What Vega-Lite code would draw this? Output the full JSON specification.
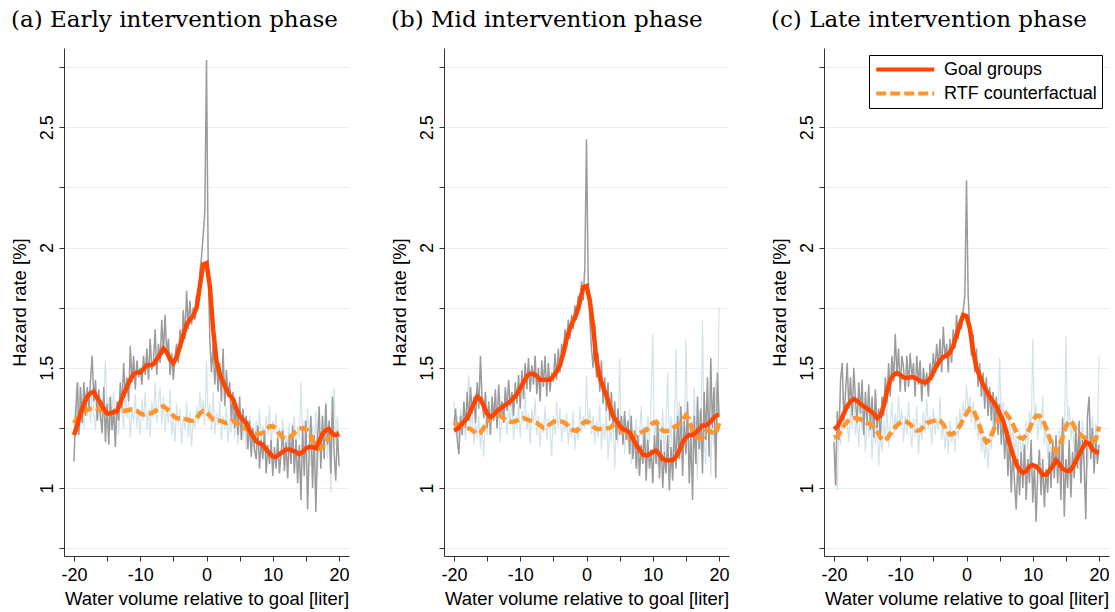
{
"$schema": "https://vega.github.io/schema/vega-lite/v6.json",
"background": "white",
"padding": {"left": 10, "top": 9, "right": 5, "bottom": 5},
"datasets": {
"a": [
{"x":-20,"g":1.11,"b":1.24},{"x":-19.75,"g":1.30,"b":1.35},{"x":-19.5,"g":1.44,"b":1.22},{"x":-19.25,"g":1.22,"b":1.44},{"x":-19,"g":1.42,"b":1.28},{"x":-18.75,"g":1.27,"b":1.36},{"x":-18.5,"g":1.44,"b":1.25},{"x":-18.25,"g":1.30,"b":1.40},{"x":-18,"g":1.42,"b":1.30},{"x":-17.75,"g":1.33,"b":1.38},{"x":-17.5,"g":1.45,"b":1.27},{"x":-17.25,"g":1.55,"b":1.42},{"x":-17,"g":1.36,"b":1.31},{"x":-16.75,"g":1.45,"b":1.24},{"x":-16.5,"g":1.28,"b":1.39},{"x":-16.25,"g":1.41,"b":1.28},{"x":-16,"g":1.30,"b":1.35},{"x":-15.75,"g":1.23,"b":1.22},{"x":-15.5,"g":1.42,"b":1.37},{"x":-15.25,"g":1.19,"b":1.53},{"x":-15,"g":1.35,"b":1.29},{"x":-14.75,"g":1.18,"b":1.38},{"x":-14.5,"g":1.38,"b":1.24},{"x":-14.25,"g":1.24,"b":1.33},{"x":-14,"g":1.33,"b":1.40},{"x":-13.75,"g":1.17,"b":1.26},{"x":-13.5,"g":1.36,"b":1.35},{"x":-13.25,"g":1.28,"b":1.22},{"x":-13,"g":1.44,"b":1.38},{"x":-12.75,"g":1.33,"b":1.30},{"x":-12.5,"g":1.52,"b":1.25},{"x":-12.25,"g":1.38,"b":1.42},{"x":-12,"g":1.46,"b":1.29},{"x":-11.75,"g":1.36,"b":1.36},{"x":-11.5,"g":1.59,"b":1.21},{"x":-11.25,"g":1.44,"b":1.34},{"x":-11,"g":1.55,"b":1.27},{"x":-10.75,"g":1.41,"b":1.39},{"x":-10.5,"g":1.53,"b":1.25},{"x":-10.25,"g":1.46,"b":1.33},{"x":-10,"g":1.50,"b":1.22},{"x":-9.75,"g":1.43,"b":1.37},{"x":-9.5,"g":1.55,"b":1.28},{"x":-9.25,"g":1.47,"b":1.40},{"x":-9,"g":1.58,"b":1.24},{"x":-8.75,"g":1.45,"b":1.33},{"x":-8.5,"g":1.62,"b":1.21},{"x":-8.25,"g":1.49,"b":1.36},{"x":-8,"g":1.53,"b":1.29},{"x":-7.75,"g":1.66,"b":1.44},{"x":-7.5,"g":1.47,"b":1.27},{"x":-7.25,"g":1.60,"b":1.35},{"x":-7,"g":1.52,"b":1.42},{"x":-6.75,"g":1.70,"b":1.26},{"x":-6.5,"g":1.56,"b":1.38},{"x":-6.25,"g":1.72,"b":1.23},{"x":-6,"g":1.55,"b":1.34},{"x":-5.75,"g":1.62,"b":1.27},{"x":-5.5,"g":1.47,"b":1.41},{"x":-5.25,"g":1.56,"b":1.22},{"x":-5,"g":1.45,"b":1.30},{"x":-4.75,"g":1.55,"b":1.19},{"x":-4.5,"g":1.60,"b":1.35},{"x":-4.25,"g":1.52,"b":1.26},{"x":-4,"g":1.66,"b":1.33},{"x":-3.75,"g":1.58,"b":1.18},{"x":-3.5,"g":1.74,"b":1.30},{"x":-3.25,"g":1.62,"b":1.24},{"x":-3,"g":1.82,"b":1.36},{"x":-2.75,"g":1.66,"b":1.21},{"x":-2.5,"g":1.78,"b":1.32},{"x":-2.25,"g":1.68,"b":1.17},{"x":-2,"g":1.75,"b":1.29},{"x":-1.75,"g":1.70,"b":1.25},{"x":-1.5,"g":1.80,"b":1.34},{"x":-1.25,"g":1.77,"b":1.27},{"x":-1,"g":1.90,"b":1.40},{"x":-0.75,"g":1.96,"b":1.30},{"x":-0.5,"g":2.05,"b":1.37},{"x":-0.25,"g":2.15,"b":1.26},{"x":0,"g":2.78,"b":1.53},{"x":0.25,"g":1.95,"b":1.28},{"x":0.5,"g":1.62,"b":1.35},{"x":0.75,"g":1.48,"b":1.24},{"x":1,"g":1.60,"b":1.40},{"x":1.25,"g":1.43,"b":1.22},{"x":1.5,"g":1.55,"b":1.31},{"x":1.75,"g":1.40,"b":1.26},{"x":2,"g":1.52,"b":1.36},{"x":2.25,"g":1.36,"b":1.20},{"x":2.5,"g":1.58,"b":1.30},{"x":2.75,"g":1.34,"b":1.24},{"x":3,"g":1.49,"b":1.34},{"x":3.25,"g":1.38,"b":1.19},{"x":3.5,"g":1.44,"b":1.29},{"x":3.75,"g":1.28,"b":1.23},{"x":4,"g":1.40,"b":1.35},{"x":4.25,"g":1.25,"b":1.21},{"x":4.5,"g":1.35,"b":1.30},{"x":4.75,"g":1.22,"b":1.18},{"x":5,"g":1.38,"b":1.27},{"x":5.25,"g":1.20,"b":1.32},{"x":5.5,"g":1.33,"b":1.20},{"x":5.75,"g":1.24,"b":1.28},{"x":6,"g":1.30,"b":1.16},{"x":6.25,"g":1.16,"b":1.25},{"x":6.5,"g":1.28,"b":1.30},{"x":6.75,"g":1.13,"b":1.17},{"x":7,"g":1.25,"b":1.24},{"x":7.25,"g":1.16,"b":1.14},{"x":7.5,"g":1.12,"b":1.28},{"x":7.75,"g":1.26,"b":1.20},{"x":8,"g":1.08,"b":1.33},{"x":8.25,"g":1.20,"b":1.16},{"x":8.5,"g":1.12,"b":1.26},{"x":8.75,"g":1.24,"b":1.19},{"x":9,"g":1.06,"b":1.30},{"x":9.25,"g":1.18,"b":1.22},{"x":9.5,"g":1.10,"b":1.34},{"x":9.75,"g":1.20,"b":1.18},{"x":10,"g":1.05,"b":1.28},{"x":10.25,"g":1.17,"b":1.23},{"x":10.5,"g":1.08,"b":1.31},{"x":10.75,"g":1.21,"b":1.15},{"x":11,"g":1.06,"b":1.25},{"x":11.25,"g":1.14,"b":1.19},{"x":11.5,"g":1.24,"b":1.29},{"x":11.75,"g":1.07,"b":1.12},{"x":12,"g":1.19,"b":1.22},{"x":12.25,"g":1.04,"b":1.17},{"x":12.5,"g":1.22,"b":1.27},{"x":12.75,"g":1.10,"b":1.10},{"x":13,"g":1.26,"b":1.24},{"x":13.25,"g":1.06,"b":1.30},{"x":13.5,"g":1.20,"b":1.15},{"x":13.75,"g":1.02,"b":1.26},{"x":14,"g":1.18,"b":1.20},{"x":14.25,"g":0.95,"b":1.44},{"x":14.5,"g":1.25,"b":1.18},{"x":14.75,"g":1.05,"b":1.28},{"x":15,"g":1.28,"b":1.13},{"x":15.25,"g":0.91,"b":1.33},{"x":15.5,"g":1.16,"b":1.21},{"x":15.75,"g":1.30,"b":1.09},{"x":16,"g":1.00,"b":1.26},{"x":16.25,"g":1.22,"b":1.16},{"x":16.5,"g":0.90,"b":1.32},{"x":16.75,"g":1.20,"b":1.05},{"x":17,"g":1.34,"b":1.22},{"x":17.25,"g":1.08,"b":1.14},{"x":17.5,"g":1.30,"b":1.30},{"x":17.75,"g":1.12,"b":1.20},{"x":18,"g":1.35,"b":1.36},{"x":18.25,"g":1.18,"b":1.12},{"x":18.5,"g":1.28,"b":1.27},{"x":18.75,"g":1.06,"b":0.98},{"x":19,"g":1.38,"b":1.25},{"x":19.25,"g":1.15,"b":1.42},{"x":19.5,"g":1.03,"b":1.18},{"x":19.75,"g":1.24,"b":1.30},{"x":20,"g":1.09,"b":1.21}
],
"b": [
{"x":-20,"g":1.26,"b":1.36},{"x":-19.75,"g":1.33,"b":1.22},{"x":-19.5,"g":1.20,"b":1.30},{"x":-19.25,"g":1.14,"b":1.19},{"x":-19,"g":1.30,"b":1.33},{"x":-18.75,"g":1.22,"b":1.24},{"x":-18.5,"g":1.36,"b":1.28},{"x":-18.25,"g":1.25,"b":1.20},{"x":-18,"g":1.40,"b":1.38},{"x":-17.75,"g":1.28,"b":1.47},{"x":-17.5,"g":1.42,"b":1.25},{"x":-17.25,"g":1.31,"b":1.33},{"x":-17,"g":1.38,"b":1.18},{"x":-16.75,"g":1.27,"b":1.27},{"x":-16.5,"g":1.44,"b":1.21},{"x":-16.25,"g":1.33,"b":1.30},{"x":-16,"g":1.55,"b":1.16},{"x":-15.75,"g":1.36,"b":1.26},{"x":-15.5,"g":1.29,"b":1.13},{"x":-15.25,"g":1.40,"b":1.29},{"x":-15,"g":1.25,"b":1.22},{"x":-14.75,"g":1.36,"b":1.34},{"x":-14.5,"g":1.22,"b":1.25},{"x":-14.25,"g":1.38,"b":1.38},{"x":-14,"g":1.28,"b":1.28},{"x":-13.75,"g":1.41,"b":1.35},{"x":-13.5,"g":1.25,"b":1.24},{"x":-13.25,"g":1.43,"b":1.32},{"x":-13,"g":1.30,"b":1.19},{"x":-12.75,"g":1.36,"b":1.36},{"x":-12.5,"g":1.27,"b":1.27},{"x":-12.25,"g":1.42,"b":1.31},{"x":-12,"g":1.32,"b":1.22},{"x":-11.75,"g":1.45,"b":1.34},{"x":-11.5,"g":1.34,"b":1.26},{"x":-11.25,"g":1.40,"b":1.38},{"x":-11,"g":1.30,"b":1.20},{"x":-10.75,"g":1.44,"b":1.30},{"x":-10.5,"g":1.35,"b":1.25},{"x":-10.25,"g":1.47,"b":1.35},{"x":-10,"g":1.33,"b":1.21},{"x":-9.75,"g":1.49,"b":1.32},{"x":-9.5,"g":1.37,"b":1.27},{"x":-9.25,"g":1.52,"b":1.40},{"x":-9,"g":1.41,"b":1.24},{"x":-8.75,"g":1.54,"b":1.31},{"x":-8.5,"g":1.40,"b":1.18},{"x":-8.25,"g":1.51,"b":1.33},{"x":-8,"g":1.43,"b":1.26},{"x":-7.75,"g":1.55,"b":1.37},{"x":-7.5,"g":1.39,"b":1.22},{"x":-7.25,"g":1.50,"b":1.30},{"x":-7,"g":1.36,"b":1.17},{"x":-6.75,"g":1.53,"b":1.28},{"x":-6.5,"g":1.42,"b":1.23},{"x":-6.25,"g":1.55,"b":1.34},{"x":-6,"g":1.38,"b":1.20},{"x":-5.75,"g":1.52,"b":1.29},{"x":-5.5,"g":1.40,"b":1.24},{"x":-5.25,"g":1.48,"b":1.13},{"x":-5,"g":1.44,"b":1.30},{"x":-4.75,"g":1.56,"b":1.22},{"x":-4.5,"g":1.45,"b":1.36},{"x":-4.25,"g":1.58,"b":1.25},{"x":-4,"g":1.48,"b":1.33},{"x":-3.75,"g":1.60,"b":1.19},{"x":-3.5,"g":1.54,"b":1.28},{"x":-3.25,"g":1.66,"b":1.23},{"x":-3,"g":1.58,"b":1.31},{"x":-2.75,"g":1.70,"b":1.18},{"x":-2.5,"g":1.62,"b":1.27},{"x":-2.25,"g":1.72,"b":1.21},{"x":-2,"g":1.66,"b":1.32},{"x":-1.75,"g":1.76,"b":1.16},{"x":-1.5,"g":1.70,"b":1.26},{"x":-1.25,"g":1.80,"b":1.20},{"x":-1,"g":1.74,"b":1.34},{"x":-0.75,"g":1.86,"b":1.23},{"x":-0.5,"g":1.78,"b":1.30},{"x":-0.25,"g":1.92,"b":1.25},{"x":0,"g":2.45,"b":1.47},{"x":0.25,"g":1.88,"b":1.26},{"x":0.5,"g":1.70,"b":1.33},{"x":0.75,"g":1.58,"b":1.22},{"x":1,"g":1.50,"b":1.30},{"x":1.25,"g":1.68,"b":1.18},{"x":1.5,"g":1.46,"b":1.28},{"x":1.75,"g":1.56,"b":1.21},{"x":2,"g":1.40,"b":1.35},{"x":2.25,"g":1.53,"b":1.16},{"x":2.5,"g":1.35,"b":1.27},{"x":2.75,"g":1.46,"b":1.20},{"x":3,"g":1.32,"b":1.33},{"x":3.25,"g":1.44,"b":1.12},{"x":3.5,"g":1.28,"b":1.25},{"x":3.75,"g":1.40,"b":1.19},{"x":4,"g":1.25,"b":1.30},{"x":4.25,"g":1.36,"b":1.08},{"x":4.5,"g":1.20,"b":1.26},{"x":4.75,"g":1.33,"b":1.18},{"x":5,"g":1.22,"b":1.54},{"x":5.25,"g":1.30,"b":1.22},{"x":5.5,"g":1.18,"b":1.30},{"x":5.75,"g":1.32,"b":1.14},{"x":6,"g":1.20,"b":1.27},{"x":6.25,"g":1.28,"b":1.19},{"x":6.5,"g":1.14,"b":1.33},{"x":6.75,"g":1.30,"b":1.10},{"x":7,"g":1.12,"b":1.24},{"x":7.25,"g":1.24,"b":1.17},{"x":7.5,"g":1.08,"b":1.29},{"x":7.75,"g":1.22,"b":1.06},{"x":8,"g":1.05,"b":1.22},{"x":8.25,"g":1.18,"b":1.34},{"x":8.5,"g":1.10,"b":1.15},{"x":8.75,"g":1.25,"b":1.26},{"x":9,"g":1.03,"b":1.11},{"x":9.25,"g":1.20,"b":1.30},{"x":9.5,"g":1.08,"b":1.19},{"x":9.75,"g":1.16,"b":1.38},{"x":10,"g":1.02,"b":1.64},{"x":10.25,"g":1.22,"b":1.20},{"x":10.5,"g":1.10,"b":1.28},{"x":10.75,"g":1.28,"b":1.09},{"x":11,"g":1.04,"b":1.24},{"x":11.25,"g":1.20,"b":1.15},{"x":11.5,"g":1.00,"b":1.33},{"x":11.75,"g":1.15,"b":1.12},{"x":12,"g":1.06,"b":1.27},{"x":12.25,"g":1.22,"b":1.48},{"x":12.5,"g":0.99,"b":1.16},{"x":12.75,"g":1.17,"b":1.30},{"x":13,"g":1.03,"b":1.05},{"x":13.25,"g":1.26,"b":1.25},{"x":13.5,"g":1.08,"b":1.58},{"x":13.75,"g":1.30,"b":1.18},{"x":14,"g":1.12,"b":1.36},{"x":14.25,"g":1.34,"b":1.12},{"x":14.5,"g":1.05,"b":1.28},{"x":14.75,"g":1.28,"b":1.20},{"x":15,"g":1.14,"b":1.62},{"x":15.25,"g":1.36,"b":1.24},{"x":15.5,"g":1.02,"b":1.08},{"x":15.75,"g":1.22,"b":1.30},{"x":16,"g":0.95,"b":1.14},{"x":16.25,"g":1.30,"b":1.42},{"x":16.5,"g":1.10,"b":1.19},{"x":16.75,"g":1.38,"b":1.03},{"x":17,"g":1.16,"b":1.32},{"x":17.25,"g":1.33,"b":1.15},{"x":17.5,"g":1.06,"b":1.70},{"x":17.75,"g":1.40,"b":1.21},{"x":18,"g":1.20,"b":1.10},{"x":18.25,"g":1.46,"b":1.38},{"x":18.5,"g":1.13,"b":1.26},{"x":18.75,"g":1.54,"b":1.05},{"x":19,"g":1.25,"b":1.31},{"x":19.25,"g":1.42,"b":1.18},{"x":19.5,"g":1.04,"b":1.45},{"x":19.75,"g":1.48,"b":1.22},{"x":20,"g":1.30,"b":1.75}
],
"c": [
{"x":-20,"g":1.19,"b":1.22},{"x":-19.75,"g":1.01,"b":1.10},{"x":-19.5,"g":1.32,"b":0.99},{"x":-19.25,"g":1.20,"b":1.25},{"x":-19,"g":1.45,"b":1.18},{"x":-18.75,"g":1.52,"b":1.32},{"x":-18.5,"g":1.28,"b":1.24},{"x":-18.25,"g":1.40,"b":1.36},{"x":-18,"g":1.52,"b":1.27},{"x":-17.75,"g":1.33,"b":1.19},{"x":-17.5,"g":1.46,"b":1.33},{"x":-17.25,"g":1.30,"b":1.25},{"x":-17,"g":1.50,"b":1.38},{"x":-16.75,"g":1.36,"b":1.22},{"x":-16.5,"g":1.27,"b":1.30},{"x":-16.25,"g":1.44,"b":1.17},{"x":-16,"g":1.31,"b":1.35},{"x":-15.75,"g":1.45,"b":1.24},{"x":-15.5,"g":1.22,"b":1.29},{"x":-15.25,"g":1.40,"b":1.15},{"x":-15,"g":1.26,"b":1.32},{"x":-14.75,"g":1.43,"b":1.21},{"x":-14.5,"g":1.24,"b":1.34},{"x":-14.25,"g":1.38,"b":1.12},{"x":-14,"g":1.21,"b":1.26},{"x":-13.75,"g":1.41,"b":1.18},{"x":-13.5,"g":1.25,"b":1.30},{"x":-13.25,"g":1.33,"b":1.09},{"x":-13,"g":1.20,"b":1.23},{"x":-12.75,"g":1.38,"b":1.15},{"x":-12.5,"g":1.30,"b":1.28},{"x":-12.25,"g":1.46,"b":1.20},{"x":-12,"g":1.35,"b":1.33},{"x":-11.75,"g":1.52,"b":1.17},{"x":-11.5,"g":1.38,"b":1.26},{"x":-11.25,"g":1.55,"b":1.36},{"x":-11,"g":1.44,"b":1.21},{"x":-10.75,"g":1.64,"b":1.31},{"x":-10.5,"g":1.47,"b":1.24},{"x":-10.25,"g":1.58,"b":1.38},{"x":-10,"g":1.40,"b":1.26},{"x":-9.75,"g":1.55,"b":1.33},{"x":-9.5,"g":1.50,"b":1.19},{"x":-9.25,"g":1.40,"b":1.30},{"x":-9,"g":1.55,"b":1.22},{"x":-8.75,"g":1.42,"b":1.36},{"x":-8.5,"g":1.56,"b":1.25},{"x":-8.25,"g":1.46,"b":1.17},{"x":-8,"g":1.52,"b":1.29},{"x":-7.75,"g":1.38,"b":1.21},{"x":-7.5,"g":1.55,"b":1.34},{"x":-7.25,"g":1.43,"b":1.14},{"x":-7,"g":1.53,"b":1.27},{"x":-6.75,"g":1.36,"b":1.20},{"x":-6.5,"g":1.50,"b":1.32},{"x":-6.25,"g":1.42,"b":1.23},{"x":-6,"g":1.48,"b":1.37},{"x":-5.75,"g":1.38,"b":1.25},{"x":-5.5,"g":1.52,"b":1.30},{"x":-5.25,"g":1.45,"b":1.18},{"x":-5,"g":1.56,"b":1.33},{"x":-4.75,"g":1.48,"b":1.22},{"x":-4.5,"g":1.60,"b":1.29},{"x":-4.25,"g":1.50,"b":1.24},{"x":-4,"g":1.62,"b":1.38},{"x":-3.75,"g":1.48,"b":1.20},{"x":-3.5,"g":1.67,"b":1.27},{"x":-3.25,"g":1.54,"b":1.16},{"x":-3,"g":1.60,"b":1.25},{"x":-2.75,"g":1.48,"b":1.14},{"x":-2.5,"g":1.62,"b":1.28},{"x":-2.25,"g":1.52,"b":1.19},{"x":-2,"g":1.66,"b":1.24},{"x":-1.75,"g":1.58,"b":1.15},{"x":-1.5,"g":1.72,"b":1.30},{"x":-1.25,"g":1.62,"b":1.21},{"x":-1,"g":1.70,"b":1.33},{"x":-0.75,"g":1.66,"b":1.26},{"x":-0.5,"g":1.74,"b":1.36},{"x":-0.25,"g":1.80,"b":1.29},{"x":0,"g":2.28,"b":1.43},{"x":0.25,"g":1.80,"b":1.32},{"x":0.5,"g":1.66,"b":1.38},{"x":0.75,"g":1.55,"b":1.27},{"x":1,"g":1.64,"b":1.36},{"x":1.25,"g":1.48,"b":1.24},{"x":1.5,"g":1.58,"b":1.32},{"x":1.75,"g":1.42,"b":1.20},{"x":2,"g":1.52,"b":1.28},{"x":2.25,"g":1.38,"b":1.15},{"x":2.5,"g":1.48,"b":1.22},{"x":2.75,"g":1.33,"b":1.12},{"x":3,"g":1.46,"b":1.19},{"x":3.25,"g":1.30,"b":1.08},{"x":3.5,"g":1.42,"b":1.24},{"x":3.75,"g":1.28,"b":1.16},{"x":4,"g":1.40,"b":1.30},{"x":4.25,"g":1.25,"b":1.21},{"x":4.5,"g":1.38,"b":1.35},{"x":4.75,"g":1.22,"b":1.26},{"x":5,"g":1.35,"b":1.54},{"x":5.25,"g":1.18,"b":1.28},{"x":5.5,"g":1.30,"b":1.36},{"x":5.75,"g":1.12,"b":1.24},{"x":6,"g":1.26,"b":1.33},{"x":6.25,"g":1.05,"b":1.20},{"x":6.5,"g":1.22,"b":1.30},{"x":6.75,"g":0.98,"b":1.17},{"x":7,"g":1.16,"b":1.26},{"x":7.25,"g":1.02,"b":1.14},{"x":7.5,"g":0.91,"b":1.22},{"x":7.75,"g":1.12,"b":1.10},{"x":8,"g":0.97,"b":1.25},{"x":8.25,"g":1.15,"b":1.13},{"x":8.5,"g":1.00,"b":1.20},{"x":8.75,"g":1.18,"b":1.09},{"x":9,"g":0.95,"b":1.28},{"x":9.25,"g":1.12,"b":1.16},{"x":9.5,"g":1.02,"b":1.32},{"x":9.75,"g":1.20,"b":1.22},{"x":10,"g":0.94,"b":1.62},{"x":10.25,"g":1.10,"b":1.26},{"x":10.5,"g":0.86,"b":1.35},{"x":10.75,"g":1.06,"b":1.20},{"x":11,"g":1.16,"b":1.31},{"x":11.25,"g":0.97,"b":1.24},{"x":11.5,"g":1.12,"b":1.38},{"x":11.75,"g":0.92,"b":1.18},{"x":12,"g":1.08,"b":1.27},{"x":12.25,"g":0.98,"b":1.12},{"x":12.5,"g":1.15,"b":1.22},{"x":12.75,"g":1.00,"b":1.08},{"x":13,"g":1.20,"b":1.18},{"x":13.25,"g":1.04,"b":1.05},{"x":13.5,"g":1.22,"b":1.20},{"x":13.75,"g":1.02,"b":1.10},{"x":14,"g":1.18,"b":1.25},{"x":14.25,"g":0.95,"b":1.15},{"x":14.5,"g":1.29,"b":1.30},{"x":14.75,"g":0.88,"b":1.18},{"x":15,"g":1.12,"b":1.63},{"x":15.25,"g":1.00,"b":1.26},{"x":15.5,"g":1.20,"b":1.34},{"x":15.75,"g":0.96,"b":1.20},{"x":16,"g":1.15,"b":1.29},{"x":16.25,"g":1.04,"b":1.15},{"x":16.5,"g":1.24,"b":1.26},{"x":16.75,"g":1.08,"b":1.12},{"x":17,"g":1.28,"b":1.24},{"x":17.25,"g":1.02,"b":1.16},{"x":17.5,"g":1.20,"b":1.28},{"x":17.75,"g":1.10,"b":1.10},{"x":18,"g":0.87,"b":1.22},{"x":18.25,"g":1.30,"b":1.08},{"x":18.5,"g":1.38,"b":1.25},{"x":18.75,"g":1.12,"b":1.14},{"x":19,"g":1.25,"b":1.30},{"x":19.25,"g":1.06,"b":1.12},{"x":19.5,"g":1.22,"b":1.27},{"x":19.75,"g":1.10,"b":1.20},{"x":20,"g":1.18,"b":1.55}
],
"as": [
{"x":-20,"G":1.22,"R":1.27},{"x":-19.5,"G":1.26,"R":1.29},{"x":-19,"G":1.31,"R":1.30},{"x":-18.5,"G":1.35,"R":1.315},{"x":-18,"G":1.38,"R":1.325},{"x":-17.5,"G":1.395,"R":1.33},{"x":-17,"G":1.40,"R":1.335},{"x":-16.5,"G":1.375,"R":1.33},{"x":-16,"G":1.355,"R":1.325},{"x":-15.5,"G":1.33,"R":1.32},{"x":-15,"G":1.31,"R":1.315},{"x":-14.5,"G":1.31,"R":1.31},{"x":-14,"G":1.315,"R":1.315},{"x":-13.5,"G":1.32,"R":1.32},{"x":-13,"G":1.355,"R":1.32},{"x":-12.5,"G":1.39,"R":1.32},{"x":-12,"G":1.42,"R":1.322},{"x":-11.5,"G":1.45,"R":1.326},{"x":-11,"G":1.475,"R":1.325},{"x":-10.5,"G":1.48,"R":1.32},{"x":-10,"G":1.48,"R":1.31},{"x":-9.5,"G":1.495,"R":1.305},{"x":-9,"G":1.51,"R":1.31},{"x":-8.5,"G":1.51,"R":1.31},{"x":-8,"G":1.515,"R":1.315},{"x":-7.5,"G":1.535,"R":1.325},{"x":-7,"G":1.555,"R":1.335},{"x":-6.5,"G":1.58,"R":1.34},{"x":-6,"G":1.565,"R":1.33},{"x":-5.5,"G":1.535,"R":1.315},{"x":-5,"G":1.52,"R":1.30},{"x":-4.5,"G":1.545,"R":1.29},{"x":-4,"G":1.59,"R":1.29},{"x":-3.5,"G":1.635,"R":1.29},{"x":-3,"G":1.68,"R":1.285},{"x":-2.5,"G":1.70,"R":1.28},{"x":-2,"G":1.715,"R":1.28},{"x":-1.5,"G":1.75,"R":1.29},{"x":-1,"G":1.84,"R":1.31},{"x":-0.5,"G":1.93,"R":1.32},{"x":0,"G":1.935,"R":1.315},{"x":0.5,"G":1.84,"R":1.30},{"x":1,"G":1.66,"R":1.285},{"x":1.5,"G":1.53,"R":1.28},{"x":2,"G":1.475,"R":1.28},{"x":2.5,"G":1.44,"R":1.275},{"x":3,"G":1.41,"R":1.27},{"x":3.5,"G":1.385,"R":1.275},{"x":4,"G":1.37,"R":1.28},{"x":4.5,"G":1.33,"R":1.27},{"x":5,"G":1.30,"R":1.26},{"x":5.5,"G":1.285,"R":1.25},{"x":6,"G":1.27,"R":1.245},{"x":6.5,"G":1.24,"R":1.235},{"x":7,"G":1.215,"R":1.225},{"x":7.5,"G":1.195,"R":1.225},{"x":8,"G":1.185,"R":1.225},{"x":8.5,"G":1.18,"R":1.23},{"x":9,"G":1.16,"R":1.24},{"x":9.5,"G":1.145,"R":1.255},{"x":10,"G":1.13,"R":1.258},{"x":10.5,"G":1.13,"R":1.245},{"x":11,"G":1.14,"R":1.225},{"x":11.5,"G":1.15,"R":1.21},{"x":12,"G":1.16,"R":1.205},{"x":12.5,"G":1.16,"R":1.21},{"x":13,"G":1.155,"R":1.22},{"x":13.5,"G":1.15,"R":1.235},{"x":14,"G":1.14,"R":1.245},{"x":14.5,"G":1.15,"R":1.25},{"x":15,"G":1.165,"R":1.245},{"x":15.5,"G":1.17,"R":1.23},{"x":16,"G":1.17,"R":1.20},{"x":16.5,"G":1.165,"R":1.175},{"x":17,"G":1.195,"R":1.162},{"x":17.5,"G":1.225,"R":1.17},{"x":18,"G":1.24,"R":1.195},{"x":18.5,"G":1.245,"R":1.21},{"x":19,"G":1.225,"R":1.22},{"x":19.5,"G":1.22,"R":1.22},{"x":20,"G":1.225,"R":1.225}
],
"bs": [
{"x":-20,"G":1.24,"R":1.26},{"x":-19.5,"G":1.245,"R":1.265},{"x":-19,"G":1.26,"R":1.26},{"x":-18.5,"G":1.275,"R":1.255},{"x":-18,"G":1.29,"R":1.25},{"x":-17.5,"G":1.32,"R":1.245},{"x":-17,"G":1.35,"R":1.235},{"x":-16.5,"G":1.38,"R":1.225},{"x":-16,"G":1.37,"R":1.23},{"x":-15.5,"G":1.34,"R":1.25},{"x":-15,"G":1.31,"R":1.27},{"x":-14.5,"G":1.295,"R":1.29},{"x":-14,"G":1.305,"R":1.305},{"x":-13.5,"G":1.32,"R":1.31},{"x":-13,"G":1.33,"R":1.30},{"x":-12.5,"G":1.34,"R":1.29},{"x":-12,"G":1.35,"R":1.28},{"x":-11.5,"G":1.36,"R":1.275},{"x":-11,"G":1.375,"R":1.275},{"x":-10.5,"G":1.39,"R":1.28},{"x":-10,"G":1.415,"R":1.285},{"x":-9.5,"G":1.44,"R":1.29},{"x":-9,"G":1.465,"R":1.285},{"x":-8.5,"G":1.475,"R":1.28},{"x":-8,"G":1.475,"R":1.275},{"x":-7.5,"G":1.465,"R":1.27},{"x":-7,"G":1.45,"R":1.26},{"x":-6.5,"G":1.45,"R":1.25},{"x":-6,"G":1.45,"R":1.255},{"x":-5.5,"G":1.45,"R":1.265},{"x":-5,"G":1.465,"R":1.275},{"x":-4.5,"G":1.485,"R":1.28},{"x":-4,"G":1.51,"R":1.277},{"x":-3.5,"G":1.56,"R":1.275},{"x":-3,"G":1.62,"R":1.265},{"x":-2.5,"G":1.665,"R":1.25},{"x":-2,"G":1.695,"R":1.24},{"x":-1.5,"G":1.725,"R":1.237},{"x":-1,"G":1.775,"R":1.25},{"x":-0.5,"G":1.835,"R":1.27},{"x":0,"G":1.84,"R":1.277},{"x":0.5,"G":1.78,"R":1.27},{"x":1,"G":1.67,"R":1.255},{"x":1.5,"G":1.53,"R":1.245},{"x":2,"G":1.46,"R":1.245},{"x":2.5,"G":1.42,"R":1.245},{"x":3,"G":1.385,"R":1.248},{"x":3.5,"G":1.34,"R":1.25},{"x":4,"G":1.30,"R":1.262},{"x":4.5,"G":1.28,"R":1.265},{"x":5,"G":1.26,"R":1.25},{"x":5.5,"G":1.245,"R":1.235},{"x":6,"G":1.24,"R":1.22},{"x":6.5,"G":1.23,"R":1.21},{"x":7,"G":1.205,"R":1.212},{"x":7.5,"G":1.18,"R":1.22},{"x":8,"G":1.16,"R":1.228},{"x":8.5,"G":1.14,"R":1.235},{"x":9,"G":1.135,"R":1.24},{"x":9.5,"G":1.14,"R":1.255},{"x":10,"G":1.15,"R":1.27},{"x":10.5,"G":1.155,"R":1.275},{"x":11,"G":1.14,"R":1.255},{"x":11.5,"G":1.12,"R":1.238},{"x":12,"G":1.115,"R":1.235},{"x":12.5,"G":1.115,"R":1.24},{"x":13,"G":1.115,"R":1.25},{"x":13.5,"G":1.13,"R":1.258},{"x":14,"G":1.155,"R":1.265},{"x":14.5,"G":1.19,"R":1.285},{"x":15,"G":1.21,"R":1.302},{"x":15.5,"G":1.22,"R":1.285},{"x":16,"G":1.22,"R":1.235},{"x":16.5,"G":1.23,"R":1.215},{"x":17,"G":1.245,"R":1.205},{"x":17.5,"G":1.26,"R":1.21},{"x":18,"G":1.26,"R":1.235},{"x":18.5,"G":1.27,"R":1.24},{"x":19,"G":1.285,"R":1.23},{"x":19.5,"G":1.30,"R":1.225},{"x":20,"G":1.305,"R":1.27}
],
"cs": [
{"x":-20,"G":1.245,"R":1.21},{"x":-19.5,"G":1.255,"R":1.215},{"x":-19,"G":1.28,"R":1.235},{"x":-18.5,"G":1.31,"R":1.26},{"x":-18,"G":1.34,"R":1.275},{"x":-17.5,"G":1.36,"R":1.285},{"x":-17,"G":1.37,"R":1.29},{"x":-16.5,"G":1.362,"R":1.29},{"x":-16,"G":1.35,"R":1.285},{"x":-15.5,"G":1.34,"R":1.28},{"x":-15,"G":1.33,"R":1.27},{"x":-14.5,"G":1.32,"R":1.265},{"x":-14,"G":1.31,"R":1.255},{"x":-13.5,"G":1.29,"R":1.235},{"x":-13,"G":1.30,"R":1.21},{"x":-12.5,"G":1.34,"R":1.197},{"x":-12,"G":1.40,"R":1.205},{"x":-11.5,"G":1.45,"R":1.225},{"x":-11,"G":1.47,"R":1.245},{"x":-10.5,"G":1.478,"R":1.26},{"x":-10,"G":1.47,"R":1.272},{"x":-9.5,"G":1.46,"R":1.278},{"x":-9,"G":1.458,"R":1.275},{"x":-8.5,"G":1.46,"R":1.265},{"x":-8,"G":1.46,"R":1.25},{"x":-7.5,"G":1.455,"R":1.238},{"x":-7,"G":1.445,"R":1.24},{"x":-6.5,"G":1.44,"R":1.255},{"x":-6,"G":1.44,"R":1.27},{"x":-5.5,"G":1.455,"R":1.275},{"x":-5,"G":1.48,"R":1.278},{"x":-4.5,"G":1.51,"R":1.283},{"x":-4,"G":1.53,"R":1.28},{"x":-3.5,"G":1.545,"R":1.265},{"x":-3,"G":1.55,"R":1.24},{"x":-2.5,"G":1.565,"R":1.222},{"x":-2,"G":1.59,"R":1.225},{"x":-1.5,"G":1.635,"R":1.24},{"x":-1,"G":1.68,"R":1.258},{"x":-0.5,"G":1.72,"R":1.285},{"x":0,"G":1.715,"R":1.31},{"x":0.5,"G":1.665,"R":1.33},{"x":1,"G":1.57,"R":1.325},{"x":1.5,"G":1.50,"R":1.295},{"x":2,"G":1.465,"R":1.255},{"x":2.5,"G":1.43,"R":1.215},{"x":3,"G":1.405,"R":1.19},{"x":3.5,"G":1.38,"R":1.20},{"x":4,"G":1.36,"R":1.235},{"x":4.5,"G":1.34,"R":1.27},{"x":5,"G":1.31,"R":1.30},{"x":5.5,"G":1.28,"R":1.315},{"x":6,"G":1.235,"R":1.31},{"x":6.5,"G":1.185,"R":1.29},{"x":7,"G":1.14,"R":1.265},{"x":7.5,"G":1.10,"R":1.235},{"x":8,"G":1.075,"R":1.21},{"x":8.5,"G":1.062,"R":1.205},{"x":9,"G":1.07,"R":1.22},{"x":9.5,"G":1.09,"R":1.245},{"x":10,"G":1.095,"R":1.28},{"x":10.5,"G":1.09,"R":1.30},{"x":11,"G":1.075,"R":1.30},{"x":11.5,"G":1.055,"R":1.285},{"x":12,"G":1.055,"R":1.25},{"x":12.5,"G":1.072,"R":1.21},{"x":13,"G":1.09,"R":1.175},{"x":13.5,"G":1.115,"R":1.15},{"x":14,"G":1.10,"R":1.17},{"x":14.5,"G":1.08,"R":1.21},{"x":15,"G":1.072,"R":1.255},{"x":15.5,"G":1.07,"R":1.28},{"x":16,"G":1.085,"R":1.27},{"x":16.5,"G":1.112,"R":1.24},{"x":17,"G":1.14,"R":1.225},{"x":17.5,"G":1.165,"R":1.215},{"x":18,"G":1.19,"R":1.205},{"x":18.5,"G":1.185,"R":1.20},{"x":19,"G":1.16,"R":1.195},{"x":19.5,"G":1.15,"R":1.20},{"x":20,"G":1.148,"R":1.255}
]
},
"hconcat": [
{
"width": 285, "height": 508,
"title": {"text": "(a) Early intervention phase", "anchor": "start", "frame": "group", "dx": -53},
"encoding": {
"x": {"field": "x", "type": "quantitative", "scale": {"domain": [-21.5, 21.5], "nice": false, "zero": false}, "axis": {"values": [-20,-15,-10,-5,0,5,10,15,20], "labelExpr": "datum.value % 10 == 0 ? '' + datum.value : ''", "grid": false, "title": "Water volume relative to goal [liter]"}}
},
"layer": [
{"data": {"name": "a"}, "mark": {"type": "line", "color": "#d3e3ea", "strokeWidth": 1.2},
 "encoding": {"y": {"field": "b", "type": "quantitative", "scale": {"domain": [0.717, 2.83], "nice": false, "zero": false}, "axis": {"values": [0.75,1,1.25,1.5,1.75,2,2.25,2.5,2.75], "labelExpr": "(datum.value*2) % 1 == 0 ? '' + datum.value : ''", "labelAngle": -90, "labelAlign": "center", "labelBaseline": "bottom", "title": "Hazard rate [%]", "grid": true}}}},
{"data": {"name": "a"}, "mark": {"type": "line", "color": "#9b9b9b", "strokeWidth": 1.5},
 "encoding": {"y": {"field": "g", "type": "quantitative"}}},
{"data": {"name": "as"}, "transform": [{"fold": ["R", "G"], "as": ["s", "v"]}],
 "mark": {"type": "line", "strokeWidth": 4.5},
 "encoding": {"y": {"field": "v", "type": "quantitative"},
  "color": {"field": "s", "type": "nominal", "scale": {"domain": ["G", "R"], "range": ["#ff4500", "#ff962d"]}, "legend": null},
  "strokeDash": {"field": "s", "type": "nominal", "scale": {"domain": ["G", "R"], "range": [[1, 0], [10, 4]]}, "legend": null}}}
]
},
{
"width": 285, "height": 508,
"title": {"text": "(b) Mid intervention phase", "anchor": "start", "frame": "group", "dx": -53},
"encoding": {
"x": {"field": "x", "type": "quantitative", "scale": {"domain": [-21.5, 21.5], "nice": false, "zero": false}, "axis": {"values": [-20,-15,-10,-5,0,5,10,15,20], "labelExpr": "datum.value % 10 == 0 ? '' + datum.value : ''", "grid": false, "title": "Water volume relative to goal [liter]"}}
},
"layer": [
{"data": {"name": "b"}, "mark": {"type": "line", "color": "#d3e3ea", "strokeWidth": 1.2},
 "encoding": {"y": {"field": "b", "type": "quantitative", "scale": {"domain": [0.717, 2.83], "nice": false, "zero": false}, "axis": {"values": [0.75,1,1.25,1.5,1.75,2,2.25,2.5,2.75], "labelExpr": "(datum.value*2) % 1 == 0 ? '' + datum.value : ''", "labelAngle": -90, "labelAlign": "center", "labelBaseline": "bottom", "title": "Hazard rate [%]", "grid": true}}}},
{"data": {"name": "b"}, "mark": {"type": "line", "color": "#9b9b9b", "strokeWidth": 1.5},
 "encoding": {"y": {"field": "g", "type": "quantitative"}}},
{"data": {"name": "bs"}, "transform": [{"fold": ["R", "G"], "as": ["s", "v"]}],
 "mark": {"type": "line", "strokeWidth": 4.5},
 "encoding": {"y": {"field": "v", "type": "quantitative"},
  "color": {"field": "s", "type": "nominal", "scale": {"domain": ["G", "R"], "range": ["#ff4500", "#ff962d"]}, "legend": null},
  "strokeDash": {"field": "s", "type": "nominal", "scale": {"domain": ["G", "R"], "range": [[1, 0], [10, 4]]}, "legend": null}}}
]
},
{
"width": 285, "height": 508,
"title": {"text": "(c) Late intervention phase", "anchor": "start", "frame": "group", "dx": -53},
"encoding": {
"x": {"field": "x", "type": "quantitative", "scale": {"domain": [-21.5, 21.5], "nice": false, "zero": false}, "axis": {"values": [-20,-15,-10,-5,0,5,10,15,20], "labelExpr": "datum.value % 10 == 0 ? '' + datum.value : ''", "grid": false, "title": "Water volume relative to goal [liter]"}}
},
"layer": [
{"data": {"name": "c"}, "mark": {"type": "line", "color": "#d3e3ea", "strokeWidth": 1.2},
 "encoding": {"y": {"field": "b", "type": "quantitative", "scale": {"domain": [0.717, 2.83], "nice": false, "zero": false}, "axis": {"values": [0.75,1,1.25,1.5,1.75,2,2.25,2.5,2.75], "labelExpr": "(datum.value*2) % 1 == 0 ? '' + datum.value : ''", "labelAngle": -90, "labelAlign": "center", "labelBaseline": "bottom", "title": "Hazard rate [%]", "grid": true}}}},
{"data": {"name": "c"}, "mark": {"type": "line", "color": "#9b9b9b", "strokeWidth": 1.5},
 "encoding": {"y": {"field": "g", "type": "quantitative"}}},
{"data": {"name": "cs"}, "transform": [{"fold": ["R", "G"], "as": ["s", "v"]}],
 "mark": {"type": "line", "strokeWidth": 4.5},
 "encoding": {"y": {"field": "v", "type": "quantitative"},
  "color": {"field": "s", "type": "nominal", "scale": {"domain": ["G", "R"], "range": ["#ff4500", "#ff962d"]},
    "legend": {"labelExpr": "datum.label == 'G' ? 'Goal groups' : 'RTF counterfactual'"}},
  "strokeDash": {"field": "s", "type": "nominal", "scale": {"domain": ["G", "R"], "range": [[1, 0], [10, 4]]},
    "legend": {"labelExpr": "datum.label == 'G' ? 'Goal groups' : 'RTF counterfactual'"}}}}
]
}
],
"spacing": 95,
"bounds": "flush",
"resolve": {"scale": {"color": "independent", "strokeDash": "independent"}, "legend": {"color": "independent", "strokeDash": "independent"}},
"config": {
"view": {"stroke": null},
"title": {"font": "DejaVu Serif", "fontSize": 23, "fontWeight": "normal", "color": "#000", "offset": 16},
"axis": {"domainColor": "#333", "tickColor": "#333", "labelColor": "#000", "titleColor": "#000", "labelFont": "Liberation Sans", "titleFont": "Liberation Sans", "labelFontSize": 18, "titleFontSize": 18.5, "titleFontWeight": "normal", "tickSize": 5, "gridColor": "#e6eff1", "labelOverlap": false},
"axisX": {"labelPadding": 5, "titlePadding": 5},
"axisY": {"labelPadding": 3, "titlePadding": 9},
"legend": {"orient": "top-right", "offset": 7, "title": null, "symbolType": "M-1,0H7", "symbolSize": 210, "symbolStrokeWidth": 4, "labelOffset": 51, "labelFont": "Liberation Sans", "labelFontSize": 18, "labelColor": "#000", "strokeColor": "#000", "fillColor": "#fff", "padding": 5, "rowPadding": 5, "labelLimit": 300, "cornerRadius": 0}
}
}
